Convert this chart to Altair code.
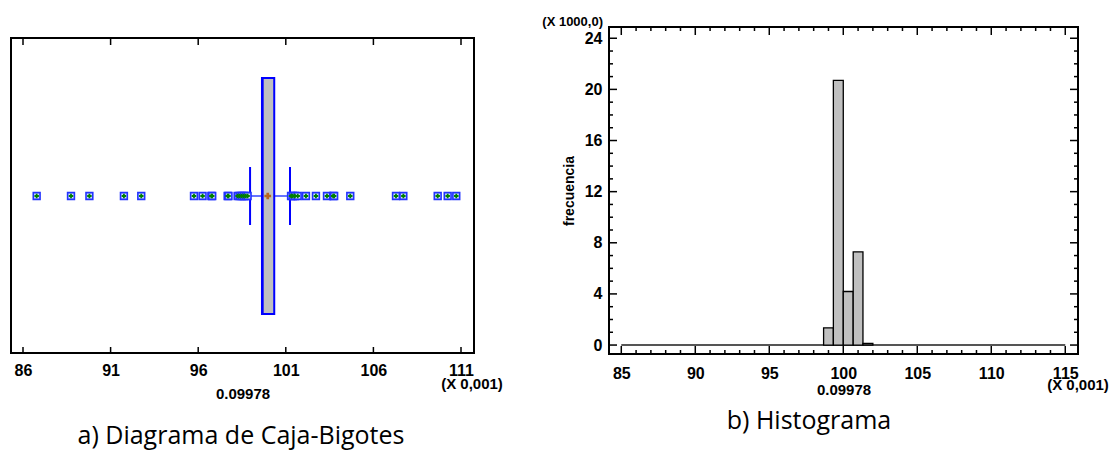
import altair as alt
import pandas as pd

# ---------------- data (values in units of 0.001) ----------------
# Box-and-whisker summary
box_q1 = 99.64
box_q3 = 100.34
box_median = 99.68
box_mean = 99.97
whisker_low = 98.96
whisker_high = 101.24
outliers = [86.78, 88.74, 89.79, 91.76, 92.75, 95.76, 96.25, 96.75, 96.80,
            97.68, 97.73, 98.25, 98.36, 98.48, 98.60, 98.72, 98.82,
            101.30, 101.40, 101.52, 101.68, 102.15, 102.72, 103.35, 103.70,
            103.76, 104.68, 107.29, 107.71, 109.67, 110.24, 110.73]
box_ticks = [86, 91, 96, 101, 106, 111]

# Histogram (frequency in thousands)
hist_bin_start = [98.67, 99.33, 100.00, 100.67, 101.33]
hist_bin_end = [99.33, 100.00, 100.67, 101.33, 102.00]
hist_counts = [1.35, 20.7, 4.19, 7.29, 0.12]
hist_range = [85, 115]
hist_x_major = [85, 90, 95, 100, 105, 110, 115]
hist_x_minor = [v for v in range(85, 116) if v % 5 != 0]
hist_y_major = [0, 4, 8, 12, 16, 20, 24]
hist_y_minor = [v for v in range(0, 25) if v % 4 != 0]

# ---------------- layout constants ----------------
LW, LH = 463, 326      # left view (frame drawn from y=LT to LH)
LT = 11
RW, RH = 469, 327
FONT = "Liberation Sans"
LBL = 16
CAP_FONT = "Open Sans"
CAP_SIZE = 25
BLUE = "#0000ff"
CY = LT + 158          # centre line of the box plot

# ---------------- left panel: box plot ----------------
lscale = alt.Scale(domain=[85.315, 111.742], nice=False, zero=False)
laxis = alt.Axis(values=box_ticks, ticks=False, domain=False, grid=False,
                 labelFont=FONT, labelFontSize=LBL, labelFontWeight="bold",
                 labelColor="black", labelPadding=9,
                 title="0.09978", titleFont=FONT, titleFontSize=15,
                 titleFontWeight="bold", titleColor="black",
                 titleY=45, titleBaseline="alphabetic")


def lx(field):
    return alt.X(f"{field}:Q", scale=lscale, axis=laxis)


summary_df = pd.DataFrame({"q1": [box_q1], "q3": [box_q3], "med": [box_median],
                           "mean": [box_mean], "lo": [whisker_low], "hi": [whisker_high]})
caps_df = pd.DataFrame({"w": [whisker_low, whisker_high]})
out_df = pd.DataFrame({"o": outliers})
lticks_df = pd.DataFrame({"t": box_ticks})
one = pd.DataFrame({"a": [0]})

frame = alt.Chart(one).mark_rect(fillOpacity=0, stroke="black", strokeWidth=2).encode(
    x=alt.value(0), x2=alt.value(LW), y=alt.value(LT), y2=alt.value(LH))
whisk_line = alt.Chart(summary_df).mark_rule(color="#3344ff", strokeWidth=1.5).encode(
    x=lx("lo"), x2="hi", y=alt.value(CY))
whisk_caps = alt.Chart(caps_df).mark_rule(color=BLUE, strokeWidth=2).encode(
    x=lx("w"), y=alt.value(CY - 29), y2=alt.value(CY + 29))
box = alt.Chart(summary_df).mark_rect(fill="#c0c0c0", stroke=BLUE, strokeWidth=2).encode(
    x=lx("q1"), x2="q3", y=alt.value(LT + 40), y2=alt.value(LT + 276))
med = alt.Chart(summary_df).mark_rule(color=BLUE, strokeWidth=2).encode(
    x=lx("med"), y=alt.value(LT + 40), y2=alt.value(LT + 276))
mean_pt = alt.Chart(summary_df).mark_point(shape="cross", size=45, filled=True,
                                            color="#b8641e", opacity=1).encode(
    x=lx("mean"), y=alt.value(CY))
out_sq = alt.Chart(out_df).mark_point(shape="square", size=46, filled=True, fill="#cfdcff",
                                       stroke="#2233ff", strokeWidth=1.6, opacity=1).encode(
    x=lx("o"), y=alt.value(CY))
out_cross = alt.Chart(out_df).mark_point(shape="cross", size=20, filled=True,
                                          color="#008000", opacity=1).encode(
    x=lx("o"), y=alt.value(CY))
lt_bottom = alt.Chart(lticks_df).mark_rule(color="black", strokeWidth=1.5).encode(
    x=lx("t"), y=alt.value(LH), y2=alt.value(LH - 6))
lt_top = alt.Chart(lticks_df).mark_rule(color="black", strokeWidth=1.5).encode(
    x=lx("t"), y=alt.value(LT), y2=alt.value(LT + 7))
l_unit = alt.Chart(one).mark_text(text="(X 0,001)", font=FONT, fontSize=15, fontWeight="bold",
                                  align="center", baseline="alphabetic", color="black").encode(
    x=alt.value(461), y=alt.value(LH + 36))
l_caption = alt.Chart(one).mark_text(text="a) Diagrama de Caja-Bigotes", font=CAP_FONT,
                                     fontSize=CAP_SIZE, align="center", baseline="alphabetic",
                                     color="black").encode(
    x=alt.value(230), y=alt.value(LH + 91))

left = alt.layer(frame, whisk_line, whisk_caps, box, med, mean_pt, out_sq, out_cross,
                 lt_bottom, lt_top, l_unit, l_caption).properties(
    width=LW, height=LH, view=alt.ViewBackground(stroke="transparent"))

# ---------------- right panel: histogram ----------------
rxscale = alt.Scale(domain=[84.17, 115.86], nice=False, zero=False)
ryscale = alt.Scale(domain=[-0.70, 24.88], nice=False, zero=False)
rxaxis = alt.Axis(values=hist_x_major, ticks=False, domain=False, grid=False,
                  labelFont=FONT, labelFontSize=LBL, labelFontWeight="bold",
                  labelColor="black", labelPadding=11,
                  title="0.09978", titleFont=FONT, titleFontSize=15,
                  titleFontWeight="bold", titleColor="black",
                  titleY=40, titleBaseline="alphabetic")
ryaxis = alt.Axis(values=hist_y_major, ticks=False, domain=False, grid=False,
                  labelFont=FONT, labelFontSize=LBL, labelFontWeight="bold",
                  labelColor="black", labelPadding=7,
                  title="frecuencia", titleFont=FONT, titleFontSize=14,
                  titleFontWeight="bold", titleColor="black", titlePadding=8)


def rx(field):
    return alt.X(f"{field}:Q", scale=rxscale, axis=rxaxis)


def ry(field):
    return alt.Y(f"{field}:Q", scale=ryscale, axis=ryaxis)


hist_df = pd.DataFrame({"start": hist_bin_start, "end": hist_bin_end, "count": hist_counts})
zero_df = pd.DataFrame({"a": [hist_range[0]], "b": [hist_range[1]], "z": [0]})
xmaj_df = pd.DataFrame({"t": hist_x_major})
xmin_df = pd.DataFrame({"t": hist_x_minor})
ymaj_df = pd.DataFrame({"t": hist_y_major})
ymin_df = pd.DataFrame({"t": hist_y_minor})

zero_line = alt.Chart(zero_df).mark_rule(color="#555555", strokeWidth=2).encode(
    x=rx("a"), x2="b", y=ry("z"))
bars = alt.Chart(hist_df).mark_rect(fill="#c0c0c0", stroke="black", strokeWidth=1.3).encode(
    x=rx("start"), x2="end", y=ry("count"), y2=alt.datum(0))


def xt(df, y1, y2):
    return alt.Chart(df).mark_rule(color="black", strokeWidth=1.5).encode(
        x=rx("t"), y=alt.value(y1), y2=alt.value(y2))


def yt(df, x1, x2):
    return alt.Chart(df).mark_rule(color="black", strokeWidth=1.5).encode(
        y=ry("t"), x=alt.value(x1), x2=alt.value(x2))


r_unit = alt.Chart(one).mark_text(text="(X 0,001)", font=FONT, fontSize=15, fontWeight="bold",
                                  align="center", baseline="alphabetic", color="black").encode(
    x=alt.value(RW), y=alt.value(RH + 36))
r_top_unit = alt.Chart(one).mark_text(text="(X 1000,0)", font=FONT, fontSize=13, fontWeight="bold",
                                      align="right", baseline="alphabetic", color="black").encode(
    x=alt.value(-6), y=alt.value(-1))
r_caption = alt.Chart(one).mark_text(text="b) Histograma", font=CAP_FONT, fontSize=CAP_SIZE,
                                     align="center", baseline="alphabetic", color="black").encode(
    x=alt.value(200), y=alt.value(RH + 75))

right = alt.layer(
    zero_line, bars,
    xt(xmaj_df, RH, RH - 8), xt(xmin_df, RH, RH - 4),
    xt(xmaj_df, 0, 8), xt(xmin_df, 0, 4),
    yt(ymaj_df, 0, 8), yt(ymin_df, 0, 4),
    yt(ymaj_df, RW - 8, RW), yt(ymin_df, RW - 4, RW),
    r_unit, r_top_unit, r_caption,
).properties(width=RW, height=RH, view=alt.ViewBackground(stroke="black", strokeWidth=2))

chart = alt.hconcat(left, right, spacing=135, bounds="flush").properties(
    padding={"left": 9, "top": 15, "right": 0, "bottom": 0},
    background="white",
).configure_view(stroke="black")

chart.save("out.html", embed_options={"renderer": "svg", "actions": False})
